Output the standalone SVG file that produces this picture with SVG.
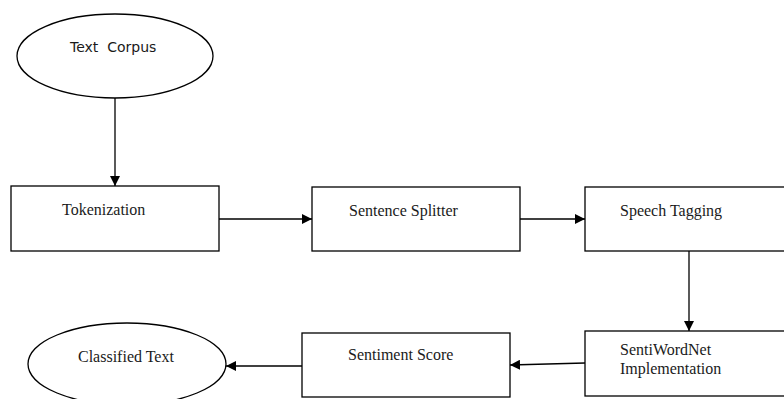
<svg xmlns="http://www.w3.org/2000/svg" width="784" height="399" viewBox="0 0 784 399">
  <style>
    .shape { fill: #ffffff; stroke: #000000; stroke-width: 1.3; }
    .serif { font-family: "Liberation Serif", "Times New Roman", serif; font-size: 16px; fill: #1a1a1a; }
    .sans { font-family: "DejaVu Sans", Verdana, sans-serif; font-size: 14px; fill: #1a1a1a; }
    .edge { fill: none; stroke: #000000; stroke-width: 1.3; marker-end: url(#arrow); }
  </style>
  <defs>
    <marker id="arrow" viewBox="0 0 10 10" refX="10" refY="5" markerWidth="10" markerHeight="10" markerUnits="userSpaceOnUse" orient="auto">
      <path d="M0,0 L10,5 L0,10 Z" fill="#000000"/>
    </marker>
  </defs>
  <rect width="784" height="399" fill="#ffffff"/>

  <g id="text-corpus">
    <ellipse class="shape" cx="115" cy="56" rx="98" ry="42"/>
    <text class="sans" x="70" y="52" xml:space="preserve">Text  Corpus</text>
  </g>

  <g id="tokenization">
    <rect class="shape" x="11" y="186" width="208" height="65"/>
    <text class="serif" x="62" y="215">Tokenization</text>
  </g>

  <g id="sentence-splitter">
    <rect class="shape" x="312" y="187" width="208" height="64"/>
    <text class="serif" x="349" y="216">Sentence Splitter</text>
  </g>

  <g id="speech-tagging">
    <rect class="shape" x="585" y="187" width="220" height="64"/>
    <text class="serif" x="620" y="216">Speech Tagging</text>
  </g>

  <g id="sentiwordnet">
    <rect class="shape" x="585" y="331" width="220" height="65"/>
    <text class="serif" x="620" y="355">SentiWordNet</text>
    <text class="serif" x="620" y="374">Implementation</text>
  </g>

  <g id="sentiment-score">
    <rect class="shape" x="302" y="333" width="208" height="64"/>
    <text class="serif" x="348" y="360">Sentiment Score</text>
  </g>

  <g id="classified-text">
    <ellipse class="shape" cx="127" cy="364" rx="99" ry="41"/>
    <text class="serif" x="78" y="362">Classified Text</text>
  </g>

  <g id="connectors">
    <line class="edge" x1="115" y1="98" x2="115" y2="186"/>
    <line class="edge" x1="219" y1="219" x2="312" y2="219"/>
    <line class="edge" x1="520" y1="219" x2="585" y2="219"/>
    <line class="edge" x1="689" y1="251" x2="689" y2="331"/>
    <line class="edge" x1="585" y1="363" x2="510" y2="365"/>
    <line class="edge" x1="302" y1="366" x2="226" y2="366"/>
  </g>
</svg>
